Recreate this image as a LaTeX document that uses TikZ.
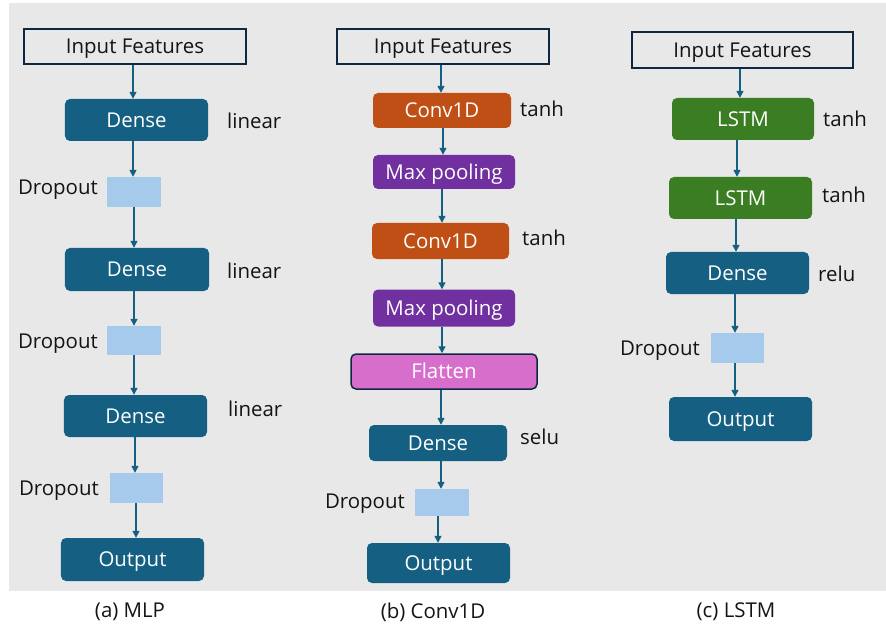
\documentclass[tikz,border=0pt]{standalone}
\usepackage{fontspec}
\setmainfont{Open Sans}
\usetikzlibrary{arrows.meta}
\definecolor{bgc}{HTML}{E8E8E8}
\definecolor{densec}{HTML}{156082}
\definecolor{convc}{HTML}{C04F15}
\definecolor{poolc}{HTML}{7030A0}
\definecolor{flatc}{HTML}{D86ECC}
\definecolor{lstmc}{HTML}{3B7D23}
\definecolor{dropc}{HTML}{A6CAEC}
\definecolor{edgec}{HTML}{0E2841}
\definecolor{txtc}{HTML}{141414}
\tikzset{
  x=1bp, y=-1bp,
  every node/.style={font=\fontsize{20.5}{24}\selectfont},
  blk/.style={rounded corners=5bp, text=white, inner sep=0pt, text height=14.6bp, text depth=0pt, align=center},
  densebox/.style={blk, fill=densec},
  convbox/.style={blk, fill=convc},
  poolbox/.style={blk, fill=poolc},
  flatbox/.style={blk, fill=flatc, draw=edgec, line width=1.5bp},
  lstmbox/.style={blk, fill=lstmc},
  inbox/.style={draw=edgec, line width=1.5bp, fill=bgc, text=txtc, inner sep=0pt, text height=14.6bp, text depth=0pt},
  dropbox/.style={fill=dropc, inner sep=0pt},
  lbl/.style={text=txtc, inner sep=0pt},
  arr/.style={draw=densec, line width=1.4bp, -{Triangle[length=7bp,width=7bp]}},
}
\newcommand{\bx}[6]{\node[#1, minimum width=#4bp, minimum height=#5bp] (#2) at (#3) {#6};}
\begin{document}
\begin{tikzpicture}
\useasboundingbox (0,0) rectangle (886,627);
\fill[bgc] (9,3) rectangle (886,591);

% ---------- MLP ----------
\bx{inbox}{in1}{135,46.5}{222}{35}{Input Features}
\bx{densebox}{d1}{136.5,120}{143}{42}{Dense}
\bx{dropbox}{p1}{134,192}{54}{30}{}
\bx{densebox}{d2}{137,269.5}{144}{43}{Dense}
\bx{dropbox}{p2}{134,340.5}{54}{29}{}
\bx{densebox}{d3}{135.5,416}{143}{42}{Dense}
\bx{dropbox}{p3}{136.5,488}{53}{30}{}
\bx{densebox}{o1}{132.5,559.5}{143}{43}{Output}
\node[lbl, anchor=base west] (la1) at (227,129) {linear};
\node[lbl, anchor=base west] (la2) at (227,278) {linear};
\node[lbl, anchor=base west] (la3) at (228,416) {linear};
\node[lbl, anchor=base east] (lp1) at (98,194.5) {Dropout};
\node[lbl, anchor=base east] (lp2) at (98,348) {Dropout};
\node[lbl, anchor=base east] (lp3) at (99,495) {Dropout};
\node[lbl, anchor=base] (cap1) at (130,617) {(a) MLP};

\draw[arr] (in1.south -| 133,0) -- (d1.north -| 133,0);
\draw[arr] (d1.south -| 133,0) -- (p1.north -| 133,0);
\draw[arr] (p1.south -| 134,0) -- (d2.north -| 134,0);
\draw[arr] (d2.south -| 134,0) -- (p2.north -| 134,0);
\draw[arr] (p2.south -| 134,0) -- (d3.north -| 134,0);
\draw[arr] (d3.south -| 135,0) -- (p3.north -| 135,0);
\draw[arr] (p3.south -| 136,0) -- (o1.north -| 136,0);

% ---------- Conv1D ----------
\bx{inbox}{in2}{443,46.5}{212}{35}{Input Features}
\bx{convbox}{c1}{442,110.5}{138}{35}{Conv1D}
\bx{poolbox}{m1}{444,172}{142}{34}{Max pooling}
\bx{convbox}{c2}{440.5,241}{137}{36}{Conv1D}
\bx{poolbox}{m2}{444,308}{142}{37}{Max pooling}
\bx{flatbox}{f1}{444,371.5}{186}{35}{Flatten}
\bx{densebox}{d4}{438,443}{138}{36}{Dense}
\bx{dropbox}{p4}{442,502.5}{54}{27}{}
\bx{densebox}{o2}{438.5,563}{143}{40}{Output}
\node[lbl, anchor=base west] (lt1) at (520,117) {tanh};
\node[lbl, anchor=base west] (lt2) at (522,246) {tanh};
\node[lbl, anchor=base west] (ls1) at (520,444) {selu};
\node[lbl, anchor=base east] (lp4) at (405,508) {Dropout};
\node[lbl, anchor=base] (cap2) at (433,618) {(b) Conv1D};

\draw[arr] (in2.south -| 441,0) -- (c1.north -| 441,0);
\draw[arr] (c1.south -| 443,0) -- (m1.north -| 443,0);
\draw[arr] (m1.south -| 442,0) -- (c2.north -| 442,0);
\draw[arr] (c2.south -| 442,0) -- (m2.north -| 442,0);
\draw[arr] (m2.south -| 442,0) -- (f1.north -| 442,0);
\draw[arr] (f1.south -| 441,0) -- (d4.north -| 441,0);
\draw[arr] (d4.south -| 441,0) -- (p4.north -| 441,0);
\draw[arr] (p4.south -| 438,0) -- (o2.north -| 438,0);

% ---------- LSTM ----------
\bx{inbox}{in3}{742.5,50}{221}{36}{Input Features}
\bx{lstmbox}{l1}{743,119}{142}{42}{LSTM}
\bx{lstmbox}{l2}{740.5,198}{143}{42}{LSTM}
\bx{densebox}{d5}{737.5,273}{143}{42}{Dense}
\bx{dropbox}{p5}{737.5,348}{53}{30}{}
\bx{densebox}{o3}{740.5,419}{143}{44}{Output}
\node[lbl, anchor=base west] (lt3) at (823,127) {tanh};
\node[lbl, anchor=base west] (lt4) at (822,203) {tanh};
\node[lbl, anchor=base west] (lr1) at (818,281) {relu};
\node[lbl, anchor=base east] (lp5) at (700,355) {Dropout};
\node[lbl, anchor=base] (cap3) at (736,617) {(c) LSTM};

\draw[arr] (in3.south -| 740,0) -- (l1.north -| 740,0);
\draw[arr] (l1.south -| 737,0) -- (l2.north -| 737,0);
\draw[arr] (l2.south -| 736,0) -- (d5.north -| 736,0);
\draw[arr] (d5.south -| 735,0) -- (p5.north -| 735,0);
\draw[arr] (p5.south -| 735,0) -- (o3.north -| 735,0);
\end{tikzpicture}
\end{document}
